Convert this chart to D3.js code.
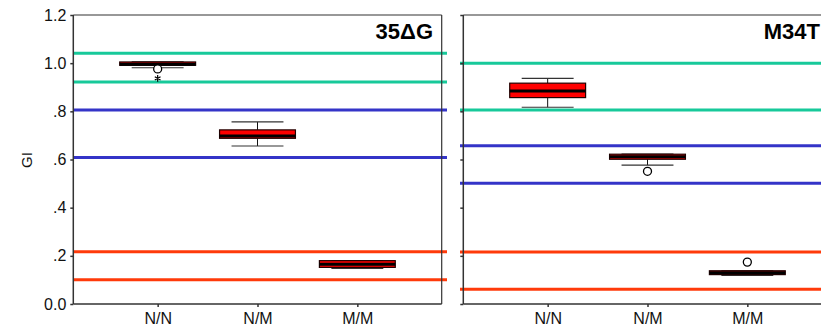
<!DOCTYPE html>
<html>
<head>
<meta charset="utf-8">
<script src="https://cdn.jsdelivr.net/npm/d3@7"></script>
<style>
  html, body { margin: 0; padding: 0; background: #fff; }
  svg { display: block; font-family: "Liberation Sans", Arial, sans-serif; }
</style>
</head>
<body>
<svg id="chart" width="821" height="326"></svg>
<script>
// ---- data ----
const categories = ["N/N", "N/M", "M/M"];
const yTickValues = [0, 0.2, 0.4, 0.6, 0.8, 1.0, 1.2];
const yTickLabels = ["0.0", ".2", ".4", ".6", ".8", "1.0", "1.2"];
const yLabel = "GI";
const panelTitles = ["35ΔG", "M34T"];

// reference lines (pairs) per panel
const teal35 = [1.041, 0.922];
const blue35 = [0.806, 0.608];
const red35  = [0.217, 0.101];
const tealM34 = [1.000, 0.806];
const blueM34 = [0.657, 0.501];
const redM34  = [0.216, 0.061];

// box stats per panel: [N/N, N/M, M/M]
const q1_35   = [0.991, 0.688, 0.152];
const med_35  = [0.996, 0.698, 0.165];
const q3_35   = [1.005, 0.723, 0.180];
const wLo_35  = [0.981, 0.656, 0.148];
const wHi_35  = [1.005, 0.756, 0.180];
const outCircle_35 = [[0, 0.976]];
const outStar_35   = [[0, 0.937]];

const q1_M34  = [0.857, 0.601, 0.122];
const med_M34 = [0.884, 0.611, 0.130];
const q3_M34  = [0.917, 0.622, 0.138];
const wLo_M34 = [0.817, 0.577, 0.119];
const wHi_M34 = [0.937, 0.622, 0.138];
const outCircle_M34 = [[1, 0.551], [2, 0.174]];
const outStar_M34   = [];

// ---- drawing ----
const svg = d3.select("#chart");
const TEAL = "#17c99a", BLUE = "#3434c8", RED = "#ff3a0a", AXIS = "#333";

const y = d3.scaleLinear().domain([0, 1.2]).range([304, 15]);

const panels = [
  { x0: 73.3, x1: 831.7 - 463.3 + 73.3, frameRight: true, labels: true, title: panelTitles[0], titleX: 433,
    lines: [[teal35, TEAL], [blue35, BLUE], [red35, RED]], lineX: [73.3, 447],
    q1: q1_35, med: med_35, q3: q3_35, wLo: wLo_35, wHi: wHi_35, circ: outCircle_35, star: outStar_35 },
  { x0: 463.3, x1: 831.7, frameRight: false, labels: false, title: panelTitles[1], titleX: 820,
    lines: [[tealM34, TEAL], [blueM34, BLUE], [redM34, RED]], lineX: [460, 832],
    q1: q1_M34, med: med_M34, q3: q3_M34, wLo: wLo_M34, wHi: wHi_M34, circ: outCircle_M34, star: outStar_M34 }
];

panels.forEach(p => {
  const x = d3.scalePoint().domain(categories).range([p.x0, p.x1]).padding(0.845);
  const step = x.step();
  const g = svg.append("g");

  // reference lines
  p.lines.forEach(([vals, col]) => {
    g.selectAll(null).data(vals).enter().append("line")
      .attr("x1", p.lineX[0]).attr("x2", p.lineX[1])
      .attr("y1", d => y(d)).attr("y2", d => y(d))
      .attr("stroke", col).attr("stroke-width", 3);
  });

  // frame
  g.append("line").attr("x1", p.x0).attr("x2", p.frameRight ? p.x1 : 821)
    .attr("y1", y(1.2)).attr("y2", y(1.2)).attr("stroke", AXIS).attr("stroke-width", 1.2);
  if (p.frameRight) {
    g.append("line").attr("x1", p.x1).attr("x2", p.x1)
      .attr("y1", y(1.2)).attr("y2", y(0)).attr("stroke", AXIS).attr("stroke-width", 1.2);
  }

  // y axis
  const yAxis = d3.axisLeft(y).tickValues(yTickValues).tickSize(3).tickPadding(4)
    .tickFormat((d, i) => p.labels ? yTickLabels[i] : "");
  const ya = g.append("g").attr("transform", `translate(${p.x0},0)`).call(yAxis);
  ya.select(".domain").attr("stroke", AXIS).attr("stroke-width", 1.5).attr("d", `M0,${y(1.2)}V${y(0)}`);
  ya.selectAll(".tick line").attr("stroke", AXIS).attr("stroke-width", 1.5);
  ya.selectAll(".tick text").attr("font-size", 16).attr("fill", "#111")
    .attr("font-family", "'Liberation Sans', Arial, sans-serif");

  // x axis
  const xAxis = d3.axisBottom(x).tickSize(3).tickPadding(6);
  const xa = g.append("g").attr("transform", `translate(0,${y(0)})`).call(xAxis);
  xa.select(".domain").attr("stroke", AXIS).attr("stroke-width", 1.5)
    .attr("d", `M${p.x0},0H${p.frameRight ? p.x1 : 821}`);
  xa.selectAll(".tick line").attr("stroke", AXIS).attr("stroke-width", 1.5);
  xa.selectAll(".tick text").attr("font-size", 16).attr("fill", "#111")
    .attr("font-family", "'Liberation Sans', Arial, sans-serif");

  // boxes
  const boxW = step * 0.76, capW = step * 0.52;
  categories.forEach((c, i) => {
    const cx = x(c);
    // whiskers
    g.append("line").attr("x1", cx).attr("x2", cx)
      .attr("y1", y(p.wHi[i])).attr("y2", y(p.q3[i])).attr("stroke", "#111").attr("stroke-width", 1);
    g.append("line").attr("x1", cx).attr("x2", cx)
      .attr("y1", y(p.q1[i])).attr("y2", y(p.wLo[i])).attr("stroke", "#111").attr("stroke-width", 1);
    [p.wHi[i], p.wLo[i]].forEach(v => {
      g.append("line").attr("x1", cx - capW / 2).attr("x2", cx + capW / 2)
        .attr("y1", y(v)).attr("y2", y(v)).attr("stroke", "#333").attr("stroke-width", 1.2);
    });
    // box
    g.append("rect").attr("x", cx - boxW / 2).attr("width", boxW)
      .attr("y", y(p.q3[i])).attr("height", Math.max(1, y(p.q1[i]) - y(p.q3[i])))
      .attr("fill", "#ff0000").attr("stroke", "#200").attr("stroke-width", 1.2);
    // median
    g.append("line").attr("x1", cx - boxW / 2).attr("x2", cx + boxW / 2)
      .attr("y1", y(p.med[i])).attr("y2", y(p.med[i])).attr("stroke", "#000").attr("stroke-width", 3);
  });

  // outliers
  g.selectAll(null).data(p.circ).enter().append("circle")
    .attr("cx", d => x(categories[d[0]])).attr("cy", d => y(d[1])).attr("r", 4)
    .attr("fill", "#fff").attr("stroke", "#000").attr("stroke-width", 1.3);
  g.selectAll(null).data(p.star).enter().append("path")
    .attr("transform", d => `translate(${x(categories[d[0]])},${y(d[1])})`)
    .attr("d", d3.symbol(d3.symbolAsterisk, 30)())
    .attr("fill", "none").attr("stroke", "#000").attr("stroke-width", 1.2);

  // title
  g.append("text").attr("x", p.titleX).attr("y", 38.5).attr("text-anchor", "end")
    .attr("font-size", 22).attr("font-weight", "bold").attr("fill", "#000").text(p.title);
});

// y label
svg.append("text").attr("transform", "translate(31.5,160) rotate(-90)")
  .attr("text-anchor", "middle").attr("font-size", 15).attr("fill", "#111").text(yLabel);
</script>
</body>
</html>
